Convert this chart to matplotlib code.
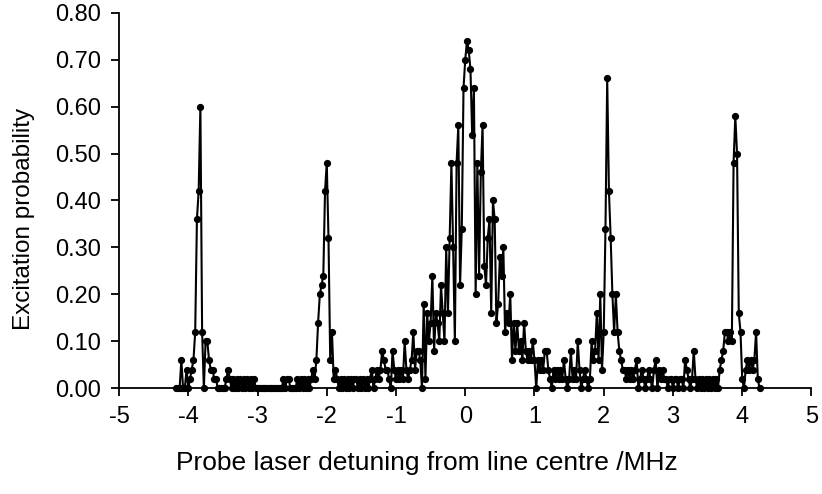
import matplotlib
matplotlib.use("Agg")
import matplotlib.pyplot as plt
import numpy as np
from matplotlib.ticker import FormatStrFormatter

# scan grid of the probe laser (MHz), uniform step
scan_start = -4.175
scan_step = 0.025

# excitation probability, one row per 0.5 MHz of the scan
row_a = [0.00, 0.00, 0.00, 0.06, 0.00, 0.00, 0.04, 0.00, 0.02, 0.04, 0.06, 0.12, 0.36, 0.42, 0.60, 0.12, 0.00, 0.10, 0.10]
row_b = [0.06, 0.04, 0.04, 0.02, 0.02, 0.00, 0.00, 0.00, 0.00, 0.00, 0.02, 0.04, 0.02, 0.00, 0.02, 0.00, 0.02, 0.00, 0.02, 0.00]
row_c = [0.02, 0.00, 0.02, 0.00, 0.02, 0.00, 0.02, 0.00, 0.00, 0.00, 0.00, 0.00, 0.00, 0.00, 0.00, 0.00, 0.00, 0.00, 0.00, 0.00]
row_d = [0.00, 0.00, 0.00, 0.02, 0.00, 0.02, 0.02, 0.00, 0.00, 0.00, 0.00, 0.02, 0.00, 0.02, 0.00, 0.02, 0.00, 0.02, 0.00, 0.02]
row_e = [0.04, 0.02, 0.06, 0.14, 0.20, 0.22, 0.24, 0.42, 0.48, 0.32, 0.06, 0.12, 0.02, 0.04, 0.02, 0.00, 0.02, 0.00, 0.02, 0.00]
row_f = [0.02, 0.00, 0.02, 0.00, 0.02, 0.02, 0.00, 0.02, 0.00, 0.02, 0.00, 0.02, 0.00, 0.02, 0.04, 0.00, 0.02, 0.04, 0.02, 0.04]
row_g = [0.08, 0.06, 0.04, 0.04, 0.02, 0.00, 0.08, 0.04, 0.02, 0.04, 0.02, 0.04, 0.02, 0.10, 0.04, 0.02, 0.04, 0.06, 0.12, 0.04]
row_h = [0.08, 0.08, 0.06, 0.00, 0.18, 0.02, 0.16, 0.10, 0.14, 0.24, 0.08, 0.16, 0.14, 0.10, 0.22, 0.16, 0.10, 0.30, 0.16, 0.32]
row_i = [0.48, 0.30, 0.10, 0.48, 0.56, 0.22, 0.34, 0.64, 0.70, 0.74, 0.72, 0.68, 0.54, 0.64, 0.20, 0.48, 0.24, 0.46, 0.56, 0.26]
row_j = [0.22, 0.32, 0.36, 0.16, 0.40, 0.36, 0.14, 0.18, 0.28, 0.24, 0.30, 0.12, 0.16, 0.14, 0.20, 0.06, 0.14, 0.08, 0.14, 0.08]
row_k = [0.10, 0.06, 0.14, 0.08, 0.06, 0.08, 0.06, 0.10, 0.06, 0.00, 0.06, 0.04, 0.06, 0.04, 0.08, 0.08, 0.04, 0.02, 0.00, 0.04]
row_l = [0.02, 0.04, 0.02, 0.04, 0.02, 0.06, 0.02, 0.00, 0.02, 0.08, 0.02, 0.04, 0.02, 0.10, 0.04, 0.00, 0.02, 0.04, 0.02, 0.00]
row_m = [0.02, 0.10, 0.06, 0.08, 0.16, 0.06, 0.20, 0.04, 0.12, 0.34, 0.66, 0.42, 0.32, 0.20, 0.12, 0.20, 0.12, 0.08, 0.06, 0.04]
row_n = [0.04, 0.02, 0.04, 0.02, 0.04, 0.02, 0.04, 0.06, 0.00, 0.02, 0.04, 0.02, 0.00, 0.02, 0.04, 0.02, 0.00, 0.04, 0.06, 0.00]
row_o = [0.04, 0.02, 0.04, 0.02, 0.02, 0.00, 0.02, 0.02, 0.00, 0.02, 0.02, 0.00, 0.02, 0.02, 0.00, 0.06, 0.04, 0.02, 0.00, 0.02]
row_p = [0.08, 0.02, 0.00, 0.02, 0.00, 0.02, 0.00, 0.02, 0.00, 0.02, 0.00, 0.02, 0.00, 0.02, 0.00, 0.04, 0.06, 0.08, 0.12, 0.12]
row_q = [0.10, 0.12, 0.10, 0.48, 0.58, 0.50, 0.16, 0.12, 0.02, 0.00, 0.04, 0.06, 0.04, 0.06, 0.04, 0.06, 0.12, 0.02, 0.00]

x_ticks = [-5, -4, -3, -2, -1, 0, 1, 2, 3, 4, 5]
y_ticks = [0.0, 0.1, 0.2, 0.3, 0.4, 0.5, 0.6, 0.7, 0.8]

excitation = np.array(row_a + row_b + row_c + row_d + row_e + row_f + row_g + row_h + row_i
                      + row_j + row_k + row_l + row_m + row_n + row_o + row_p + row_q)
detuning = scan_start + scan_step * np.arange(len(excitation))

plt.rcParams['font.family'] = ['Liberation Sans', 'DejaVu Sans']
plt.rcParams['axes.unicode_minus'] = False

fig = plt.figure(figsize=(8.22, 4.94), dpi=100)
ax = fig.add_axes([0.1448, 0.2140, 0.8424, 0.7603])

ax.plot(detuning, excitation, color='black', lw=1.5, marker='o', ms=4.2, clip_on=False)

ax.set_xlim(-5, 5)
ax.set_ylim(0, 0.8)
ax.set_xticks(x_ticks)
ax.set_yticks(y_ticks)
ax.yaxis.set_major_formatter(FormatStrFormatter('%.2f'))
ax.spines['top'].set_visible(False)
ax.spines['right'].set_visible(False)
ax.spines['left'].set_linewidth(1.3)
ax.spines['bottom'].set_linewidth(1.3)
ax.tick_params(direction='out', length=6, width=1.3, labelsize=17, colors='black')
ax.tick_params(axis='y', pad=7)
ax.tick_params(axis='x', pad=7)

ax.set_xlabel('Probe laser detuning from line centre /MHz', fontsize=19, va='center')
ax.set_ylabel('Excitation probability', fontsize=17.5, va='center')
ax.xaxis.set_label_coords(0.445, -0.2)
ax.yaxis.set_label_coords(-0.137, 0.451)

fig.savefig('out.png', dpi=100)
